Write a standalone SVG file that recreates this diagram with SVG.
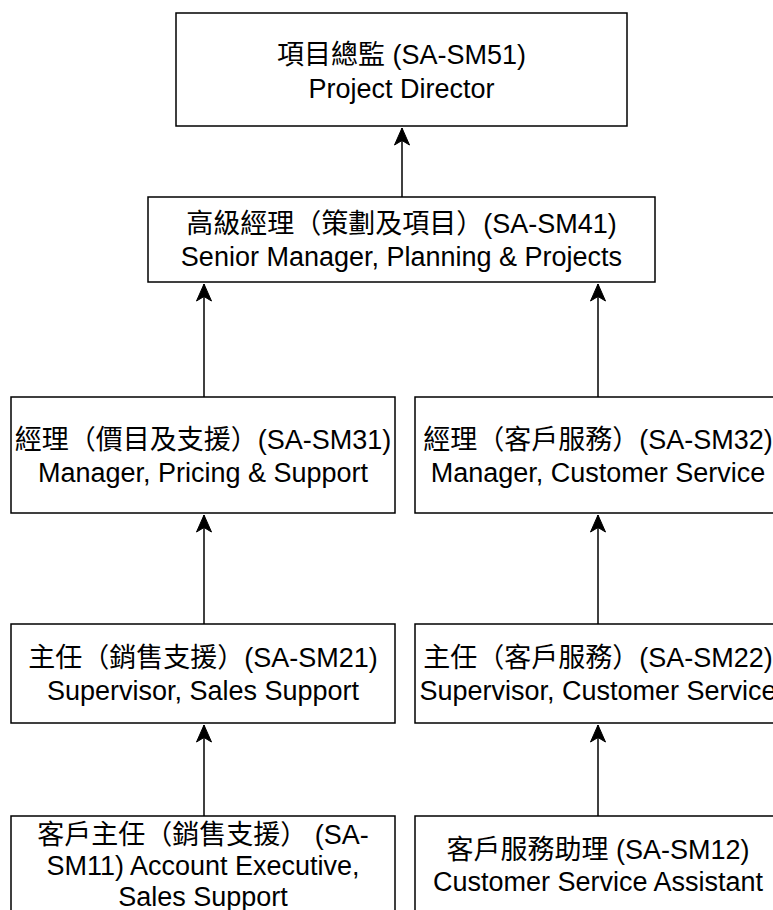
<svg xmlns="http://www.w3.org/2000/svg" width="773" height="910" viewBox="0 0 773 910">
<style>
.box{fill:#fff;stroke:#000;stroke-width:1.5}
.t{font-family:"Liberation Sans","Noto Sans CJK TC",sans-serif;font-size:27px;fill:#000;text-anchor:middle}
.c{stroke:#000;stroke-width:1.5;fill:none}
</style>
<defs>
<marker id="arr" markerUnits="userSpaceOnUse" markerWidth="20" markerHeight="20" viewBox="-18 -10 20 20" refX="0" refY="0" orient="auto">
<path d="M0,0 L-17,-7.5 L-12.5,0 L-17,7.5 Z" fill="#000" stroke="#000" stroke-width="1"/>
</marker>
</defs>
<g id="connectors">
<path class="c" d="M402,197 L402,128" marker-end="url(#arr)"/>
<path class="c" d="M204,397 L204,284" marker-end="url(#arr)"/>
<path class="c" d="M598,397 L598,284" marker-end="url(#arr)"/>
<path class="c" d="M204,624 L204,515" marker-end="url(#arr)"/>
<path class="c" d="M598,624 L598,515" marker-end="url(#arr)"/>
<path class="c" d="M204,816 L204,725" marker-end="url(#arr)"/>
<path class="c" d="M598,816 L598,725" marker-end="url(#arr)"/>
</g>
<g id="n51">
<rect class="box" x="176" y="13" width="451" height="113"/>
<text class="t" x="401.5" y="64">項目總監 (SA-SM51)</text>
<text class="t" x="401.5" y="98">Project Director</text>
</g>
<g id="n41">
<rect class="box" x="148" y="197" width="507" height="85"/>
<text class="t" x="401.5" y="233">高級經理（策劃及項目）(SA-SM41)</text>
<text class="t" x="401.5" y="266">Senior Manager, Planning &amp; Projects</text>
</g>
<g id="n31">
<rect class="box" x="11" y="397" width="384" height="116"/>
<text class="t" x="203" y="449">經理（價目及支援）(SA-SM31)</text>
<text class="t" x="203" y="482">Manager, Pricing &amp; Support</text>
</g>
<g id="n32">
<rect class="box" x="415" y="397" width="366" height="116"/>
<text class="t" x="598" y="449">經理（客戶服務）(SA-SM32)</text>
<text class="t" x="598" y="482">Manager, Customer Service</text>
</g>
<g id="n21">
<rect class="box" x="11" y="624" width="384" height="99"/>
<text class="t" x="203" y="667">主任（銷售支援）(SA-SM21)</text>
<text class="t" x="203" y="700">Supervisor, Sales Support</text>
</g>
<g id="n22">
<rect class="box" x="415" y="624" width="366" height="99"/>
<text class="t" x="598" y="667">主任（客戶服務）(SA-SM22)</text>
<text class="t" x="598" y="700">Supervisor, Customer Service</text>
</g>
<g id="n11">
<rect class="box" x="11" y="816" width="384" height="100"/>
<text class="t" x="203" y="844">客戶主任（銷售支援） (SA-</text>
<text class="t" x="203" y="875">SM11) Account Executive,</text>
<text class="t" x="203" y="906">Sales Support</text>
</g>
<g id="n12">
<rect class="box" x="415" y="816" width="366" height="100"/>
<text class="t" x="598" y="859">客戶服務助理 (SA-SM12)</text>
<text class="t" x="598" y="891">Customer Service Assistant</text>
</g>
</svg>
